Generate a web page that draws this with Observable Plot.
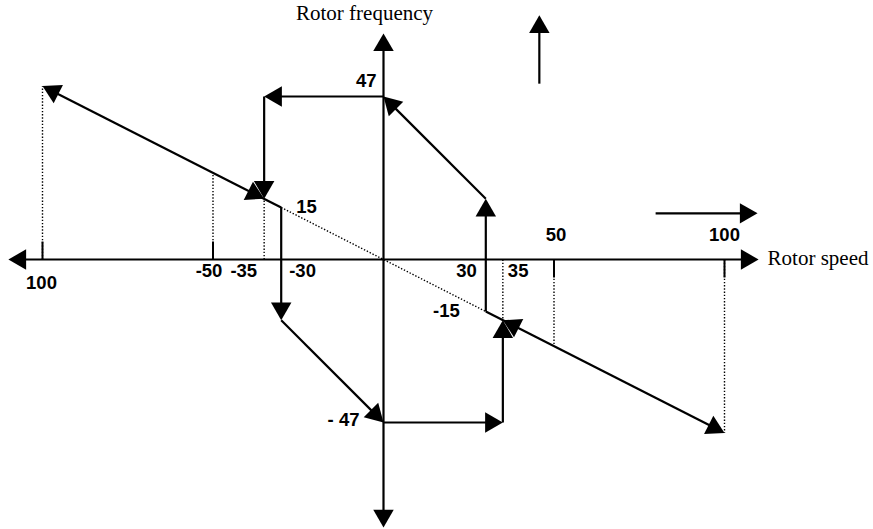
<!DOCTYPE html>
<html><head><meta charset="utf-8">
<script src="https://cdn.jsdelivr.net/npm/d3@7"></script>
<script src="https://cdn.jsdelivr.net/npm/@observablehq/plot@0.6"></script>
<style>body{margin:0;background:#fff}#chart svg{background:#fff;overflow:visible}</style>
</head><body><div id="chart"></div>
<script>
// ---- values ----
const xTicks = [-100, -50, -35, -30, 30, 35, 50, 100];
const xTickLabels = ["100", "-50", "-35", "-30", "30", "35", "50", "100"];
const yTicks = [47, 15, -15, -47];
const yTickLabels = ["47", "15", "-15", "- 47"];
// slip line (rotor frequency vs rotor speed)
const slipX = [-100, -30, 30, 100];
const slipY = [50, 15, -15, -50];
// hysteresis branches (followed in order)
const lowerBranchX = [-30, -30, 0, 35, 35];
const lowerBranchY = [15, -17.5, -47, -47, -17.5];
const upperBranchX = [30, 30, 0, -35, -35];
const upperBranchY = [-15, 17.5, 47, 47, 17.5];
// dotted drop lines from the speed axis to the slip line
const dropX = [-100, -50, -35, 35, 50, 100];
const dropY = [50, 25, 17.5, -17.5, -25, -50];
// major ticks
const majorTickX = [-100, -50, 50, 100];
// axis extents
const axisXExtent = [-110, 110];
const axisYExtent = [-77.3, 65.2];
// direction arrows
const speedArrowX = [79.8, 109.7];
const speedArrowY = 13.3;
const freqArrowX = 45.7;
const freqArrowY = [50.7, 70.4];
const xTitle = "Rotor speed";
const yTitle = "Rotor frequency";

// ---- scales ----
const xDomain = [-100, 100], xRange = [42, 724];
const yDomain = [-47, 47], yRange = [422, 96];
const kx = (xRange[1] - xRange[0]) / (xDomain[1] - xDomain[0]);
const ky = (yRange[0] - yRange[1]) / (yDomain[1] - yDomain[0]);
const headR = 7.6;
const headOff = 2 * Math.sqrt(Math.PI * headR * headR / (3 * Math.sqrt(3)));

const solid = [];   // plain segments
const heads = [];   // arrow heads
function head(x1, y1, x2, y2) {
  const px = (x2 - x1) * kx, py = -(y2 - y1) * ky;
  const L = Math.hypot(px, py), ux = px / L, uy = py / L;
  const cx = x2 - ux * headOff / kx, cy = y2 + uy * headOff / ky;
  heads.push({x: cx, y: cy, a: Math.atan2(ux, -uy) * 180 / Math.PI});
  return [cx, cy];
}
function arrow(x1, y1, x2, y2, both) {
  let [ex, ey] = head(x1, y1, x2, y2);
  let sx = x1, sy = y1;
  if (both) [sx, sy] = head(x2, y2, x1, y1);
  solid.push({x1: sx, y1: sy, x2: ex, y2: ey});
}
// axes
arrow(axisXExtent[0], 0, axisXExtent[1], 0, true);
arrow(0, axisYExtent[0], 0, axisYExtent[1], true);
// slip line outer solid parts
arrow(slipX[1], slipY[1], slipX[0], slipY[0]);
arrow(slipX[2], slipY[2], slipX[3], slipY[3]);
head(slipX[0], slipY[0], dropX[2], dropY[2]);
head(slipX[3], slipY[3], dropX[3], dropY[3]);
// branches
for (let i = 0; i < lowerBranchX.length - 1; i++)
  arrow(lowerBranchX[i], lowerBranchY[i], lowerBranchX[i + 1], lowerBranchY[i + 1]);
for (let i = 0; i < upperBranchX.length - 1; i++)
  arrow(upperBranchX[i], upperBranchY[i], upperBranchX[i + 1], upperBranchY[i + 1]);
// direction arrows
arrow(speedArrowX[0], speedArrowY, speedArrowX[1], speedArrowY);
arrow(freqArrowX, freqArrowY[0], freqArrowX, freqArrowY[1]);

const tickLen = 18 / ky;
const ticks = majorTickX.map(x => ({x, y1: 0, y2: x < 0 ? tickLen : -tickLen}));
const drops = dropX.map((x, i) => ({x, y1: 0, y2: dropY[i]}));

// label layout (offsets in px)
const xLabelLayout = [
  {dx: -1, dy: 23.5, anchor: "middle"},
  {dx: -4, dy: 11.5, anchor: "middle"},
  {dx: -7, dy: 11.5, anchor: "end"},
  {dx: 8, dy: 11.5, anchor: "start"},
  {dx: -9, dy: 11.5, anchor: "end"},
  {dx: 5, dy: 11.5, anchor: "start"},
  {dx: 2, dy: -24.5, anchor: "middle"},
  {dx: 0, dy: -24.5, anchor: "middle"}
];
const yLabelAnchorX = [0, -30, 30, 0];
const yLabelLayout = [
  {dx: -7, dy: -15.5, anchor: "end"},
  {dx: 15, dy: 0, anchor: "start"},
  {dx: -26, dy: 0, anchor: "end"},
  {dx: -24, dy: -2.5, anchor: "end"}
];
const labelFont = {fontFamily: "Liberation Sans, Arial, sans-serif", fontWeight: "bold", fontSize: 18.5, fill: "black"};
const labelMarks = [];
xTicks.forEach((x, i) => {
  const l = xLabelLayout[i];
  labelMarks.push(Plot.text([{x, y: 0, t: xTickLabels[i]}], {x: "x", y: "y", text: "t", dx: l.dx, dy: l.dy, textAnchor: l.anchor, ...labelFont}));
});
yTicks.forEach((y, i) => {
  const l = yLabelLayout[i];
  labelMarks.push(Plot.text([{x: yLabelAnchorX[i], y, t: yTickLabels[i]}], {x: "x", y: "y", text: "t", dx: l.dx, dy: l.dy, textAnchor: l.anchor, ...labelFont}));
});
const titleFont = {fontFamily: "Liberation Serif, Times New Roman, serif", fontSize: 21, fill: "black"};

const chart = Plot.plot({
  width: 873, height: 529,
  margin: 0,
  x: {domain: xDomain, range: xRange, axis: null},
  y: {domain: yDomain, range: yRange, axis: null},
  style: {background: "white"},
  marks: [
    // dotted slip-line centre part
    Plot.link([{x1: slipX[1], y1: slipY[1], x2: slipX[2], y2: slipY[2]}], {x1: "x1", y1: "y1", x2: "x2", y2: "y2", stroke: "black", strokeWidth: 1.4, strokeDasharray: "1.4,1.8"}),
    // dotted drop lines
    Plot.link(drops, {x1: "x", y1: "y1", x2: "x", y2: "y2", stroke: "black", strokeWidth: 1.4, strokeDasharray: "1.4,1.8"}),
    // ticks
    Plot.link(ticks, {x1: "x", y1: "y1", x2: "x", y2: "y2", stroke: "black", strokeWidth: 2}),
    // solid segments
    Plot.link(solid, {x1: "x1", y1: "y1", x2: "x2", y2: "y2", stroke: "black", strokeWidth: 2.2}),
    // arrow heads
    Plot.dot(heads, {x: "x", y: "y", rotate: "a", symbol: "triangle", r: headR, fill: "black", stroke: null}),
    ...labelMarks,
    Plot.text([{x: 0, y: axisYExtent[1], t: yTitle}], {x: "x", y: "y", text: "t", dx: -19, dy: -20, textAnchor: "middle", ...titleFont}),
    Plot.text([{x: axisXExtent[1], y: 0, t: xTitle}], {x: "x", y: "y", text: "t", dx: 9, dy: -1, textAnchor: "start", ...titleFont})
  ]
});
document.getElementById("chart").append(chart);
</script>
</body></html>
